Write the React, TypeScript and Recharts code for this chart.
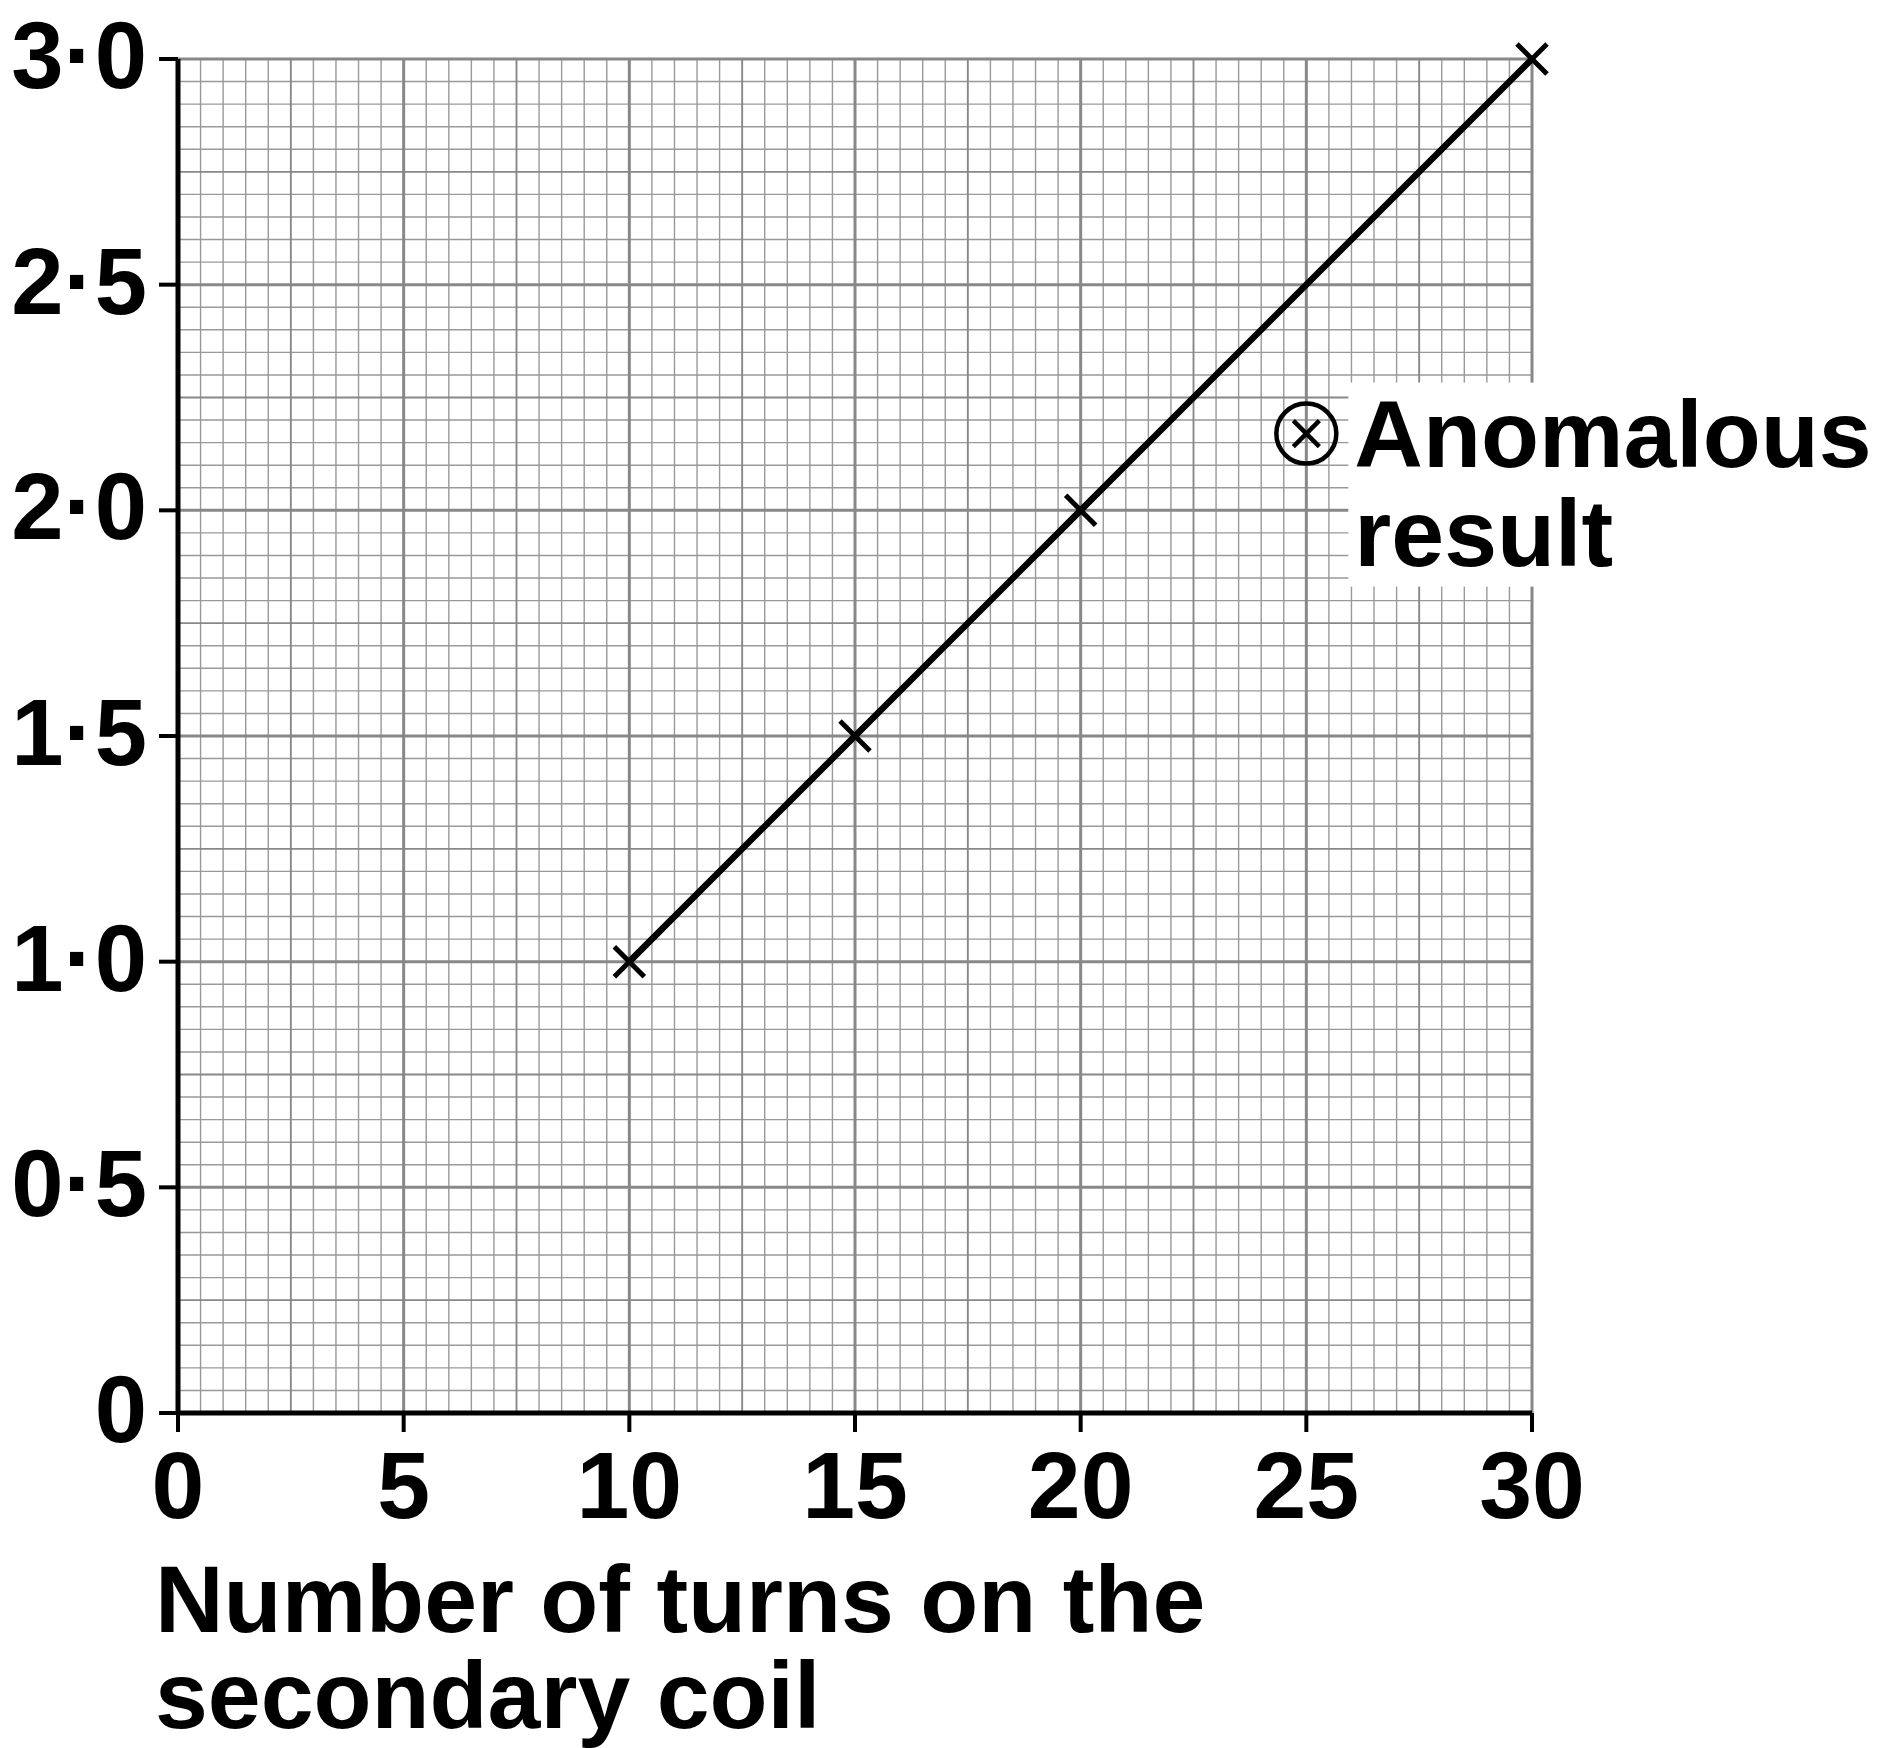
import React from "react";
import {
  ComposedChart,
  Line,
  Scatter,
  XAxis,
  YAxis,
  CartesianGrid,
} from "recharts";

// measured points on the best-fit line
const turns = [10, 15, 20, 30];
const pd = [1.0, 1.5, 2.0, 3.0];

// the circled (anomalous) point
const anomalousTurns = [25];
const anomalousPd = [2.17];

const xTicks = [0, 5, 10, 15, 20, 25, 30];
const yTicks = [0, 0.5, 1.0, 1.5, 2.0, 2.5, 3.0];

const xTitle = ["Number of turns on the", "secondary coil"];
const noteLines = ["Anomalous", "result"];

const lineData = turns.map((x, i) => ({ x, y: pd[i] }));
const anomalousData = anomalousTurns.map((x, i) => ({ x, y: anomalousPd[i] }));

const FONT = "'Liberation Sans', Arial, Helvetica, sans-serif";

// graph paper lines
const steps = (step: number, max: number) => {
  const out: number[] = [];
  const n = Math.round(max / step);
  for (let i = 0; i <= n; i++) out.push(Math.round(i * step * 1000) / 1000);
  return out;
};
const isMult = (v: number, m: number) => Math.abs(v / m - Math.round(v / m)) < 1e-6;

const xAll = steps(0.5, 30);
const yAll = steps(0.05, 3);
const xMajor = xAll.filter((v) => isMult(v, 5));
const xMid = xAll.filter((v) => isMult(v, 2.5) && !isMult(v, 5));
const xMinor = xAll.filter((v) => !isMult(v, 2.5));
const yMajor = yAll.filter((v) => isMult(v, 0.5));
const yMid = yAll.filter((v) => isMult(v, 0.25) && !isMult(v, 0.5));
const yMinor = yAll.filter((v) => !isMult(v, 0.25));

const fmtY = (v: number) => (v === 0 ? "0" : v.toFixed(1).replace(".", "\u00B7"));

const YTick = (props: any) => {
  const { x, y, payload } = props;
  return (
    <text
      x={x}
      y={y + 29}
      textAnchor="end"
      fontFamily={FONT}
      fontWeight="bold"
      fontSize={94}
      fill="#000"
    >
      {fmtY(payload.value)}
    </text>
  );
};

const XTick = (props: any) => {
  const { x, y, payload } = props;
  return (
    <text
      x={x}
      y={y + 68}
      textAnchor="middle"
      fontFamily={FONT}
      fontWeight="bold"
      fontSize={95}
      fill="#000"
    >
      {payload.value}
    </text>
  );
};

const renderTitle = (props: any) => {
  const vb = props.viewBox || {};
  return (
    <text fontFamily={FONT} fontWeight="bold" fontSize={95} fill="#000">
      {xTitle.map((t, i) => (
        <tspan key={t} x={vb.x - 23} y={vb.y + 219 + i * 96}>
          {t}
        </tspan>
      ))}
    </text>
  );
};

const renderCross = (props: any) => {
  const { cx, cy, index } = props;
  const s = 15;
  return (
    <g key={`cross-${index}`}>
      <line x1={cx - s} y1={cy - s} x2={cx + s} y2={cy + s} stroke="#000" strokeWidth={5} />
      <line x1={cx - s} y1={cy + s} x2={cx + s} y2={cy - s} stroke="#000" strokeWidth={5} />
    </g>
  );
};

const renderAnomalous = (props: any) => {
  const { cx, cy } = props;
  const s = 13;
  return (
    <g>
      <rect x={cx + 42} y={cy - 51} width={560} height={204} fill="#fff" />
      <circle cx={cx} cy={cy} r={30} fill="none" stroke="#000" strokeWidth={4.5} />
      <line x1={cx - s} y1={cy - s} x2={cx + s} y2={cy + s} stroke="#000" strokeWidth={4.5} />
      <line x1={cx - s} y1={cy + s} x2={cx + s} y2={cy - s} stroke="#000" strokeWidth={4.5} />
      <text fontFamily={FONT} fontWeight="bold" fontSize={95} fill="#000">
        {noteLines.map((t, i) => (
          <tspan key={t} x={cx + 48} y={cy + 33 + i * 99}>
            {t}
          </tspan>
        ))}
      </text>
    </g>
  );
};

export default function App() {
  return (
    <div style={{ background: "#fff", width: 1893, height: 1740 }}>
      <ComposedChart
        width={1893}
        height={1740}
        margin={{ top: 51, right: 369, bottom: 0, left: 0 }}
      >
        <CartesianGrid
          horizontalValues={yMinor}
          verticalValues={xMinor}
          stroke="#999999"
          strokeWidth={1.4}
        />
        <CartesianGrid
          horizontalValues={yMid}
          verticalValues={xMid}
          stroke="#888888"
          strokeWidth={1.9}
        />
        <CartesianGrid
          horizontalValues={yMajor}
          verticalValues={xMajor}
          stroke="#888888"
          strokeWidth={3}
        />
        <XAxis
          type="number"
          dataKey="x"
          domain={[0, 30]}
          ticks={xTicks}
          interval={0}
          height={335}
          tickSize={19}
          tickMargin={18}
          axisLine={{ stroke: "#000", strokeWidth: 5 }}
          tickLine={{ stroke: "#000", strokeWidth: 4 }}
          tick={<XTick />}
          label={renderTitle}
        />
        <YAxis
          type="number"
          dataKey="y"
          domain={[0, 3]}
          ticks={yTicks}
          interval={0}
          width={170}
          tickSize={19}
          tickMargin={12}
          axisLine={{ stroke: "#000", strokeWidth: 5 }}
          tickLine={{ stroke: "#000", strokeWidth: 4 }}
          tick={<YTick />}
        />
        <Line
          data={lineData}
          dataKey="y"
          type="linear"
          stroke="#000"
          strokeWidth={6.5}
          dot={renderCross}
          activeDot={false}
          isAnimationActive={false}
          legendType="none"
        />
        <Scatter
          data={anomalousData}
          dataKey="y"
          shape={renderAnomalous}
          isAnimationActive={false}
          legendType="none"
        />
      </ComposedChart>
    </div>
  );
}
